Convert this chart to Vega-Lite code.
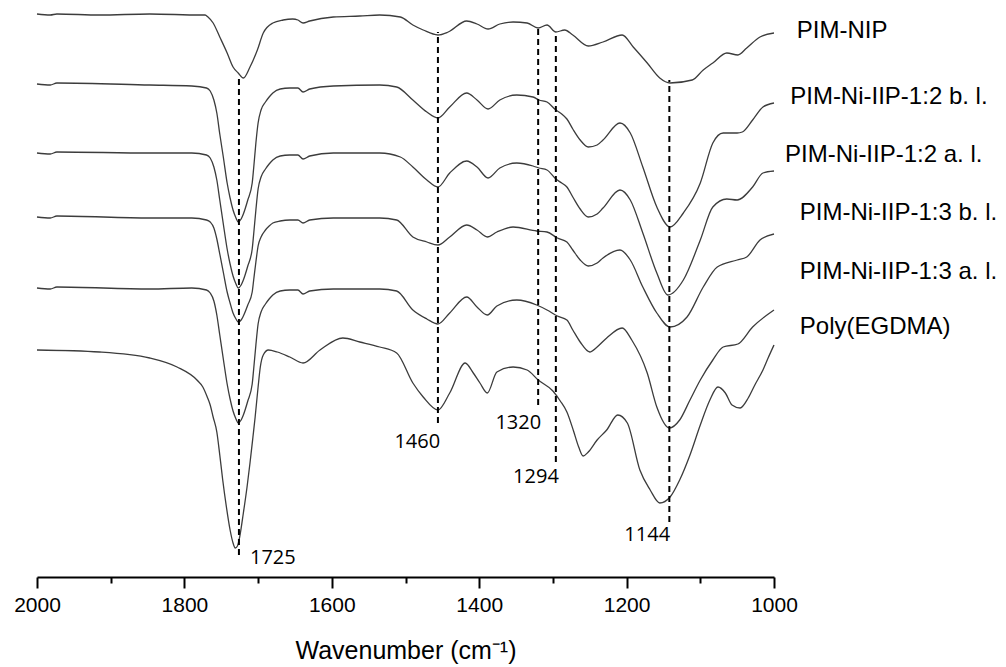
{
  "$schema": "https://vega.github.io/schema/vega-lite/v6.json",
  "autosize": {"type": "none"},
  "width": 737,
  "height": 567,
  "padding": {"left": 37, "top": 10, "right": 232, "bottom": 90},
  "background": "white",
  "config": {"view": {"stroke": null}},
  "datasets": {
    "spectra": [
      {"s":"PIM-NIP","wn":2000,"v":563},{"s":"PIM-NIP","wn":1982,"v":562},{"s":"PIM-NIP","wn":1973,"v":563},{"s":"PIM-NIP","wn":1915,"v":562},{"s":"PIM-NIP","wn":1847,"v":563},{"s":"PIM-NIP","wn":1779,"v":562},{"s":"PIM-NIP","wn":1772,"v":562},{"s":"PIM-NIP","wn":1768,"v":560},{"s":"PIM-NIP","wn":1761,"v":554},{"s":"PIM-NIP","wn":1752,"v":540},{"s":"PIM-NIP","wn":1742,"v":524},{"s":"PIM-NIP","wn":1734,"v":510},{"s":"PIM-NIP","wn":1727,"v":504},{"s":"PIM-NIP","wn":1720,"v":499},{"s":"PIM-NIP","wn":1711,"v":510},{"s":"PIM-NIP","wn":1701,"v":527},{"s":"PIM-NIP","wn":1693,"v":544},{"s":"PIM-NIP","wn":1680,"v":554},{"s":"PIM-NIP","wn":1666,"v":557},{"s":"PIM-NIP","wn":1653,"v":558},{"s":"PIM-NIP","wn":1646,"v":557},{"s":"PIM-NIP","wn":1639,"v":554},{"s":"PIM-NIP","wn":1630,"v":556},{"s":"PIM-NIP","wn":1598,"v":560},{"s":"PIM-NIP","wn":1562,"v":561},{"s":"PIM-NIP","wn":1535,"v":562},{"s":"PIM-NIP","wn":1507,"v":560},{"s":"PIM-NIP","wn":1490,"v":552},{"s":"PIM-NIP","wn":1476,"v":547},{"s":"PIM-NIP","wn":1456,"v":542},{"s":"PIM-NIP","wn":1442,"v":545},{"s":"PIM-NIP","wn":1417,"v":556},{"s":"PIM-NIP","wn":1403,"v":553},{"s":"PIM-NIP","wn":1388,"v":548},{"s":"PIM-NIP","wn":1372,"v":553},{"s":"PIM-NIP","wn":1354,"v":555},{"s":"PIM-NIP","wn":1335,"v":554},{"s":"PIM-NIP","wn":1320,"v":549},{"s":"PIM-NIP","wn":1308,"v":552},{"s":"PIM-NIP","wn":1296,"v":545},{"s":"PIM-NIP","wn":1284,"v":547},{"s":"PIM-NIP","wn":1273,"v":542},{"s":"PIM-NIP","wn":1252,"v":531},{"s":"PIM-NIP","wn":1232,"v":535},{"s":"PIM-NIP","wn":1206,"v":542},{"s":"PIM-NIP","wn":1191,"v":530},{"s":"PIM-NIP","wn":1172,"v":514},{"s":"PIM-NIP","wn":1155,"v":499},{"s":"PIM-NIP","wn":1141,"v":494},{"s":"PIM-NIP","wn":1111,"v":497},{"s":"PIM-NIP","wn":1096,"v":507},{"s":"PIM-NIP","wn":1083,"v":514},{"s":"PIM-NIP","wn":1064,"v":524},{"s":"PIM-NIP","wn":1049,"v":522},{"s":"PIM-NIP","wn":1037,"v":529},{"s":"PIM-NIP","wn":1019,"v":540},{"s":"PIM-NIP","wn":1000,"v":544},

      {"s":"b12","wn":2000,"v":493},{"s":"b12","wn":1982,"v":492},{"s":"b12","wn":1973,"v":494},{"s":"b12","wn":1847,"v":492},{"s":"b12","wn":1790,"v":491},{"s":"b12","wn":1770,"v":489},{"s":"b12","wn":1765,"v":486},{"s":"b12","wn":1760,"v":477},{"s":"b12","wn":1756,"v":464},{"s":"b12","wn":1752,"v":443},{"s":"b12","wn":1747,"v":419},{"s":"b12","wn":1742,"v":394},{"s":"b12","wn":1738,"v":379},{"s":"b12","wn":1734,"v":367},{"s":"b12","wn":1730,"v":359},{"s":"b12","wn":1727,"v":355},{"s":"b12","wn":1723,"v":358},{"s":"b12","wn":1720,"v":363},{"s":"b12","wn":1714,"v":377},{"s":"b12","wn":1708,"v":394},{"s":"b12","wn":1706,"v":409},{"s":"b12","wn":1703,"v":434},{"s":"b12","wn":1700,"v":454},{"s":"b12","wn":1696,"v":467},{"s":"b12","wn":1690,"v":475},{"s":"b12","wn":1685,"v":480},{"s":"b12","wn":1680,"v":484},{"s":"b12","wn":1670,"v":488},{"s":"b12","wn":1657,"v":489},{"s":"b12","wn":1646,"v":489},{"s":"b12","wn":1639,"v":485},{"s":"b12","wn":1630,"v":488},{"s":"b12","wn":1598,"v":491},{"s":"b12","wn":1535,"v":492},{"s":"b12","wn":1512,"v":490},{"s":"b12","wn":1490,"v":477},{"s":"b12","wn":1471,"v":465},{"s":"b12","wn":1456,"v":459},{"s":"b12","wn":1440,"v":470},{"s":"b12","wn":1417,"v":484},{"s":"b12","wn":1403,"v":477},{"s":"b12","wn":1388,"v":468},{"s":"b12","wn":1372,"v":477},{"s":"b12","wn":1349,"v":482},{"s":"b12","wn":1327,"v":480},{"s":"b12","wn":1319,"v":477},{"s":"b12","wn":1308,"v":475},{"s":"b12","wn":1296,"v":467},{"s":"b12","wn":1288,"v":463},{"s":"b12","wn":1281,"v":458},{"s":"b12","wn":1273,"v":448},{"s":"b12","wn":1263,"v":437},{"s":"b12","wn":1252,"v":430},{"s":"b12","wn":1240,"v":432},{"s":"b12","wn":1232,"v":437},{"s":"b12","wn":1209,"v":454},{"s":"b12","wn":1195,"v":444},{"s":"b12","wn":1178,"v":410},{"s":"b12","wn":1159,"v":370},{"s":"b12","wn":1141,"v":350},{"s":"b12","wn":1123,"v":364},{"s":"b12","wn":1100,"v":394},{"s":"b12","wn":1083,"v":434},{"s":"b12","wn":1069,"v":444},{"s":"b12","wn":1050,"v":444},{"s":"b12","wn":1043,"v":445},{"s":"b12","wn":1029,"v":457},{"s":"b12","wn":1015,"v":470},{"s":"b12","wn":1000,"v":474},

      {"s":"a12","wn":2000,"v":424},{"s":"a12","wn":1982,"v":423},{"s":"a12","wn":1973,"v":425},{"s":"a12","wn":1847,"v":424},{"s":"a12","wn":1790,"v":424},{"s":"a12","wn":1770,"v":422},{"s":"a12","wn":1765,"v":419},{"s":"a12","wn":1760,"v":410},{"s":"a12","wn":1756,"v":397},{"s":"a12","wn":1752,"v":377},{"s":"a12","wn":1747,"v":352},{"s":"a12","wn":1742,"v":328},{"s":"a12","wn":1738,"v":313},{"s":"a12","wn":1734,"v":301},{"s":"a12","wn":1730,"v":293},{"s":"a12","wn":1727,"v":289},{"s":"a12","wn":1723,"v":292},{"s":"a12","wn":1720,"v":297},{"s":"a12","wn":1714,"v":311},{"s":"a12","wn":1708,"v":328},{"s":"a12","wn":1706,"v":343},{"s":"a12","wn":1703,"v":367},{"s":"a12","wn":1700,"v":388},{"s":"a12","wn":1696,"v":400},{"s":"a12","wn":1690,"v":408},{"s":"a12","wn":1685,"v":413},{"s":"a12","wn":1680,"v":417},{"s":"a12","wn":1670,"v":421},{"s":"a12","wn":1657,"v":422},{"s":"a12","wn":1646,"v":422},{"s":"a12","wn":1639,"v":418},{"s":"a12","wn":1630,"v":421},{"s":"a12","wn":1598,"v":424},{"s":"a12","wn":1535,"v":424},{"s":"a12","wn":1507,"v":420},{"s":"a12","wn":1490,"v":410},{"s":"a12","wn":1471,"v":397},{"s":"a12","wn":1456,"v":390},{"s":"a12","wn":1440,"v":404},{"s":"a12","wn":1417,"v":416},{"s":"a12","wn":1403,"v":410},{"s":"a12","wn":1388,"v":399},{"s":"a12","wn":1372,"v":409},{"s":"a12","wn":1349,"v":414},{"s":"a12","wn":1327,"v":411},{"s":"a12","wn":1319,"v":409},{"s":"a12","wn":1308,"v":407},{"s":"a12","wn":1296,"v":398},{"s":"a12","wn":1288,"v":394},{"s":"a12","wn":1281,"v":390},{"s":"a12","wn":1273,"v":380},{"s":"a12","wn":1263,"v":368},{"s":"a12","wn":1252,"v":360},{"s":"a12","wn":1240,"v":363},{"s":"a12","wn":1232,"v":369},{"s":"a12","wn":1209,"v":387},{"s":"a12","wn":1195,"v":377},{"s":"a12","wn":1178,"v":344},{"s":"a12","wn":1159,"v":304},{"s":"a12","wn":1144,"v":282},{"s":"a12","wn":1123,"v":297},{"s":"a12","wn":1100,"v":337},{"s":"a12","wn":1083,"v":370},{"s":"a12","wn":1064,"v":378},{"s":"a12","wn":1050,"v":377},{"s":"a12","wn":1029,"v":390},{"s":"a12","wn":1015,"v":404},{"s":"a12","wn":1000,"v":406},

      {"s":"b13","wn":2000,"v":360},{"s":"b13","wn":1982,"v":359},{"s":"b13","wn":1973,"v":361},{"s":"b13","wn":1847,"v":359},{"s":"b13","wn":1790,"v":359},{"s":"b13","wn":1770,"v":357},{"s":"b13","wn":1765,"v":355},{"s":"b13","wn":1760,"v":349},{"s":"b13","wn":1756,"v":338},{"s":"b13","wn":1752,"v":323},{"s":"b13","wn":1747,"v":304},{"s":"b13","wn":1742,"v":285},{"s":"b13","wn":1738,"v":274},{"s":"b13","wn":1734,"v":264},{"s":"b13","wn":1730,"v":258},{"s":"b13","wn":1727,"v":255},{"s":"b13","wn":1723,"v":257},{"s":"b13","wn":1720,"v":261},{"s":"b13","wn":1714,"v":272},{"s":"b13","wn":1708,"v":285},{"s":"b13","wn":1706,"v":297},{"s":"b13","wn":1703,"v":315},{"s":"b13","wn":1700,"v":331},{"s":"b13","wn":1696,"v":340},{"s":"b13","wn":1690,"v":347},{"s":"b13","wn":1685,"v":351},{"s":"b13","wn":1680,"v":354},{"s":"b13","wn":1670,"v":356},{"s":"b13","wn":1657,"v":357},{"s":"b13","wn":1646,"v":357},{"s":"b13","wn":1639,"v":354},{"s":"b13","wn":1630,"v":357},{"s":"b13","wn":1598,"v":359},{"s":"b13","wn":1535,"v":359},{"s":"b13","wn":1512,"v":357},{"s":"b13","wn":1490,"v":340},{"s":"b13","wn":1471,"v":335},{"s":"b13","wn":1456,"v":332},{"s":"b13","wn":1440,"v":340},{"s":"b13","wn":1417,"v":352},{"s":"b13","wn":1403,"v":347},{"s":"b13","wn":1389,"v":340},{"s":"b13","wn":1376,"v":345},{"s":"b13","wn":1354,"v":350},{"s":"b13","wn":1322,"v":346},{"s":"b13","wn":1308,"v":345},{"s":"b13","wn":1294,"v":339},{"s":"b13","wn":1281,"v":335},{"s":"b13","wn":1273,"v":327},{"s":"b13","wn":1263,"v":317},{"s":"b13","wn":1252,"v":311},{"s":"b13","wn":1240,"v":314},{"s":"b13","wn":1232,"v":319},{"s":"b13","wn":1209,"v":327},{"s":"b13","wn":1195,"v":317},{"s":"b13","wn":1178,"v":290},{"s":"b13","wn":1159,"v":264},{"s":"b13","wn":1141,"v":250},{"s":"b13","wn":1118,"v":260},{"s":"b13","wn":1096,"v":290},{"s":"b13","wn":1077,"v":310},{"s":"b13","wn":1050,"v":317},{"s":"b13","wn":1037,"v":320},{"s":"b13","wn":1019,"v":337},{"s":"b13","wn":1000,"v":343},

      {"s":"a13","wn":2000,"v":289},{"s":"a13","wn":1982,"v":288},{"s":"a13","wn":1973,"v":290},{"s":"a13","wn":1847,"v":288},{"s":"a13","wn":1790,"v":289},{"s":"a13","wn":1770,"v":287},{"s":"a13","wn":1765,"v":284},{"s":"a13","wn":1760,"v":276},{"s":"a13","wn":1756,"v":262},{"s":"a13","wn":1752,"v":242},{"s":"a13","wn":1747,"v":217},{"s":"a13","wn":1742,"v":193},{"s":"a13","wn":1738,"v":178},{"s":"a13","wn":1734,"v":166},{"s":"a13","wn":1730,"v":158},{"s":"a13","wn":1727,"v":154},{"s":"a13","wn":1723,"v":157},{"s":"a13","wn":1720,"v":162},{"s":"a13","wn":1714,"v":176},{"s":"a13","wn":1708,"v":193},{"s":"a13","wn":1706,"v":208},{"s":"a13","wn":1703,"v":232},{"s":"a13","wn":1700,"v":253},{"s":"a13","wn":1696,"v":265},{"s":"a13","wn":1690,"v":273},{"s":"a13","wn":1685,"v":278},{"s":"a13","wn":1680,"v":282},{"s":"a13","wn":1670,"v":286},{"s":"a13","wn":1657,"v":287},{"s":"a13","wn":1646,"v":287},{"s":"a13","wn":1639,"v":283},{"s":"a13","wn":1630,"v":286},{"s":"a13","wn":1598,"v":288},{"s":"a13","wn":1535,"v":288},{"s":"a13","wn":1512,"v":286},{"s":"a13","wn":1490,"v":267},{"s":"a13","wn":1471,"v":258},{"s":"a13","wn":1456,"v":253},{"s":"a13","wn":1440,"v":264},{"s":"a13","wn":1417,"v":280},{"s":"a13","wn":1403,"v":270},{"s":"a13","wn":1389,"v":262},{"s":"a13","wn":1376,"v":271},{"s":"a13","wn":1349,"v":277},{"s":"a13","wn":1322,"v":272},{"s":"a13","wn":1308,"v":267},{"s":"a13","wn":1294,"v":261},{"s":"a13","wn":1281,"v":257},{"s":"a13","wn":1273,"v":247},{"s":"a13","wn":1263,"v":235},{"s":"a13","wn":1250,"v":225},{"s":"a13","wn":1240,"v":230},{"s":"a13","wn":1227,"v":239},{"s":"a13","wn":1206,"v":249},{"s":"a13","wn":1193,"v":237},{"s":"a13","wn":1172,"v":204},{"s":"a13","wn":1159,"v":170},{"s":"a13","wn":1142,"v":149},{"s":"a13","wn":1128,"v":157},{"s":"a13","wn":1114,"v":177},{"s":"a13","wn":1100,"v":197},{"s":"a13","wn":1083,"v":217},{"s":"a13","wn":1069,"v":230},{"s":"a13","wn":1049,"v":233},{"s":"a13","wn":1029,"v":250},{"s":"a13","wn":1000,"v":267},

      {"s":"poly","wn":2000,"v":227},{"s":"poly","wn":1915,"v":225},{"s":"poly","wn":1847,"v":219},{"s":"poly","wn":1810,"v":210},{"s":"poly","wn":1783,"v":197},{"s":"poly","wn":1775,"v":190},{"s":"poly","wn":1769,"v":180},{"s":"poly","wn":1765,"v":172},{"s":"poly","wn":1761,"v":160},{"s":"poly","wn":1756,"v":145},{"s":"poly","wn":1752,"v":122},{"s":"poly","wn":1748,"v":97},{"s":"poly","wn":1743,"v":70},{"s":"poly","wn":1738,"v":47},{"s":"poly","wn":1734,"v":34},{"s":"poly","wn":1731,"v":29},{"s":"poly","wn":1728,"v":31},{"s":"poly","wn":1725,"v":40},{"s":"poly","wn":1720,"v":64},{"s":"poly","wn":1715,"v":90},{"s":"poly","wn":1711,"v":114},{"s":"poly","wn":1707,"v":140},{"s":"poly","wn":1704,"v":160},{"s":"poly","wn":1700,"v":190},{"s":"poly","wn":1697,"v":210},{"s":"poly","wn":1693,"v":222},{"s":"poly","wn":1686,"v":227},{"s":"poly","wn":1674,"v":225},{"s":"poly","wn":1657,"v":220},{"s":"poly","wn":1639,"v":214},{"s":"poly","wn":1616,"v":227},{"s":"poly","wn":1585,"v":239},{"s":"poly","wn":1562,"v":235},{"s":"poly","wn":1535,"v":230},{"s":"poly","wn":1512,"v":224},{"s":"poly","wn":1490,"v":194},{"s":"poly","wn":1476,"v":180},{"s":"poly","wn":1456,"v":167},{"s":"poly","wn":1440,"v":184},{"s":"poly","wn":1419,"v":214},{"s":"poly","wn":1408,"v":204},{"s":"poly","wn":1399,"v":194},{"s":"poly","wn":1389,"v":184},{"s":"poly","wn":1376,"v":205},{"s":"poly","wn":1354,"v":210},{"s":"poly","wn":1335,"v":207},{"s":"poly","wn":1320,"v":197},{"s":"poly","wn":1300,"v":186},{"s":"poly","wn":1290,"v":176},{"s":"poly","wn":1281,"v":165},{"s":"poly","wn":1272,"v":146},{"s":"poly","wn":1265,"v":130},{"s":"poly","wn":1259,"v":121},{"s":"poly","wn":1252,"v":125},{"s":"poly","wn":1240,"v":137},{"s":"poly","wn":1227,"v":147},{"s":"poly","wn":1212,"v":162},{"s":"poly","wn":1199,"v":154},{"s":"poly","wn":1182,"v":107},{"s":"poly","wn":1168,"v":87},{"s":"poly","wn":1155,"v":74},{"s":"poly","wn":1141,"v":80},{"s":"poly","wn":1128,"v":97},{"s":"poly","wn":1114,"v":122},{"s":"poly","wn":1100,"v":152},{"s":"poly","wn":1087,"v":177},{"s":"poly","wn":1076,"v":190},{"s":"poly","wn":1066,"v":184},{"s":"poly","wn":1057,"v":172},{"s":"poly","wn":1046,"v":169},{"s":"poly","wn":1035,"v":179},{"s":"poly","wn":1026,"v":192},{"s":"poly","wn":1015,"v":207},{"s":"poly","wn":1008,"v":219},{"s":"poly","wn":1000,"v":232}
    ],
    "peaks": [
      {"wn": 1726, "v": 22, "v2": 502},
      {"wn": 1456, "v": 154, "v2": 545},
      {"wn": 1320, "v": 172, "v2": 551},
      {"wn": 1296, "v": 115, "v2": 545},
      {"wn": 1142, "v": 55, "v2": 497}
    ],
    "peakLabels": [
      {"t": "1725", "wn": 1680, "v": 19},
      {"t": "1460", "wn": 1484, "v": 135},
      {"t": "1320", "wn": 1347, "v": 154},
      {"t": "1294", "wn": 1323, "v": 100},
      {"t": "1144", "wn": 1172, "v": 42}
    ],
    "seriesLabels": [
      {"t": "PIM-NIP", "wn": 969, "v": 546},
      {"t": "PIM-Ni-IIP-1:2 b. l.", "wn": 978, "v": 480},
      {"t": "PIM-Ni-IIP-1:2 a. l.", "wn": 985, "v": 422},
      {"t": "PIM-Ni-IIP-1:3 b. l.", "wn": 965, "v": 364},
      {"t": "PIM-Ni-IIP-1:3 a. l.", "wn": 965, "v": 305},
      {"t": "Poly(EGDMA)", "wn": 965, "v": 250}
    ]
  },
  "encoding": {
    "x": {
      "field": "wn",
      "type": "quantitative",
      "scale": {"domain": [1000, 2000], "reverse": true, "nice": false, "zero": false},
      "axis": {
        "title": "Wavenumber (cm⁻¹)",
        "values": [2000, 1900, 1800, 1700, 1600, 1500, 1400, 1300, 1200, 1100, 1000],
        "format": "d",
        "labelExpr": "datum.value % 200 === 0 ? datum.label : ''",
        "tickSize": {"condition": {"test": "datum.value % 200 === 0", "value": 11}, "value": 6},
        "tickWidth": 2,
        "tickColor": "black",
        "domainColor": "black",
        "domainWidth": 2,
        "grid": false,
        "labelFont": "Liberation Sans",
        "labelFontSize": 21,
        "labelColor": "black",
        "labelPadding": 6,
        "labelFlush": false,
        "labelOverlap": false,
        "titleFont": "Liberation Sans",
        "titleFontSize": 25,
        "titleFontWeight": "normal",
        "titleColor": "black",
        "titlePadding": 23
      }
    },
    "y": {
      "field": "v",
      "type": "quantitative",
      "scale": {"domain": [0, 567], "nice": false, "zero": false},
      "axis": null
    }
  },
  "layer": [
    {
      "data": {"name": "spectra"},
      "mark": {"type": "line", "color": "#3c3c3c", "strokeWidth": 1.3, "interpolate": "monotone"},
      "encoding": {"detail": {"field": "s"}}
    },
    {
      "data": {"name": "peaks"},
      "mark": {"type": "rule", "color": "black", "strokeWidth": 2, "strokeDash": [6, 4]},
      "encoding": {"y2": {"field": "v2"}}
    },
    {
      "data": {"name": "peakLabels"},
      "mark": {"type": "text", "font": "Open Sans", "fontSize": 20, "color": "black", "align": "center", "baseline": "middle"},
      "encoding": {"text": {"field": "t"}}
    },
    {
      "data": {"name": "seriesLabels"},
      "mark": {"type": "text", "font": "Liberation Sans", "fontSize": 24, "color": "black", "align": "left", "baseline": "middle"},
      "encoding": {"text": {"field": "t"}}
    }
  ]
}
